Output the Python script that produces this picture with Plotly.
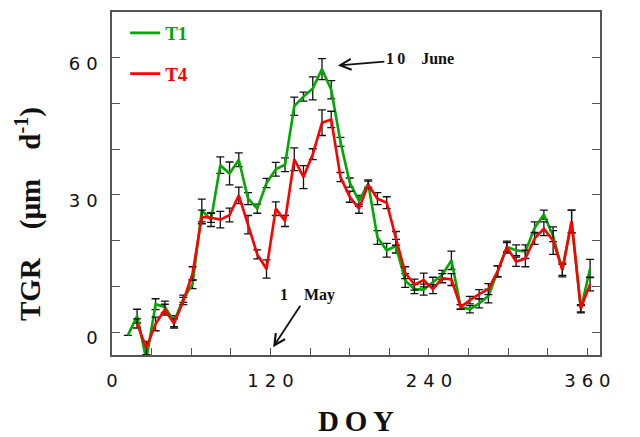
import plotly.graph_objects as go

# Day of year of each sampling
doy = [12, 19, 26, 33, 40, 47, 54, 61, 68, 75, 82, 89, 96, 103, 110, 117, 124,
       131, 138, 145, 152, 159, 166, 173, 180, 187, 194, 201, 208, 215, 222,
       229, 236, 243, 250, 257, 264, 271, 278, 285, 292, 299, 306, 313, 320,
       327, 334, 341, 348, 355, 362]

# TGR (um d-1), treatment T1
t1 = [-0.7, 3.5, -6.0, 6.1, 5.5, 2.4, 7.3, 10.5, 26.6, 24.6, 36.5, 34.7, 37.7,
      29.2, 27.0, 32.6, 35.6, 36.6, 49.4, 51.5, 53.3, 57.5, 53.0, 41.6, 32.7,
      28.7, 32.5, 20.7, 17.9, 18.8, 11.3, 9.4, 9.3, 11.0, 12.5, 15.7, 5.5, 5.0,
      6.3, 7.9, 13.3, 18.6, 17.9, 17.6, 22.8, 25.7, 21.0, 13.6, 24.2, 5.0, 13.9]
t1_err = [0, 1.5, 1.0, 1.2, 1.3, 1.2, 0.8, 1.0, 2.5, 1.5, 1.8, 2.5, 1.5, 1.3,
          1.0, 1.0, 1.5, 1.5, 2.0, 1.0, 2.5, 2.3, 2.0, 1.0, 1.0, 1.2, 0.8, 1.5,
          1.5, 1.5, 1.5, 1.0, 1.2, 1.0, 1.0, 2.0, 0.5, 0.8, 1.0, 1.5, 1.2, 1.0,
          1.2, 1.5, 1.3, 1.0, 1.2, 1.2, 2.5, 0.8, 2.0]

# TGR (um d-1), treatment T4
t4 = [None, 1.9, -3.5, 1.8, 4.9, 1.9, 6.8, 12.8, 25.2, 25.0, 24.6, 25.6, 29.9,
      23.5, 17.0, 13.8, 27.0, 24.3, 37.8, 33.9, 38.9, 45.8, 46.5, 33.9, 29.6,
      27.0, 32.2, 29.2, 28.3, 20.5, 13.0, 10.4, 11.4, 9.4, 11.8, 11.5, 5.5, 7.0,
      8.3, 9.4, 13.3, 18.6, 15.4, 16.1, 20.5, 22.6, 20.0, 13.6, 24.2, 5.2, 10.5]
t4_err = [0, 1.0, 1.5, 1.5, 1.2, 1.0, 0.8, 1.5, 1.5, 1.0, 1.8, 1.5, 1.8, 2.0,
          1.0, 2.0, 1.5, 1.2, 2.5, 2.5, 1.2, 2.8, 1.8, 1.0, 1.2, 1.0, 0.8, 1.3,
          1.3, 1.5, 1.3, 1.2, 1.5, 1.0, 1.0, 1.3, 0.5, 0.8, 1.0, 1.2, 1.2, 1.3,
          1.0, 1.8, 1.3, 1.5, 3.0, 1.5, 2.5, 0.8, 1.5]

SP = "\u2004"
x_ticks = [0, 30, 60, 90, 120, 150, 180, 210, 240, 270, 300, 330, 360]
x_labels = ["0", "", "", "", SP.join("120"), "", "", "", SP.join("240"), "", "", "", SP.join("360")]
y_ticks = [0, 10, 20, 30, 40, 50, 60]
y_labels = ["0", "", "", SP.join("30"), "", "", SP.join("60")]

GREEN = "#00a800"
RED = "#ff0000"
SERIF = "Liberation Serif, Times New Roman, serif"
SANS = "DejaVu Sans, Verdana, sans-serif"

fig = go.Figure()
err_style = dict(type="data", visible=True, color="#111111", thickness=1.3, width=4)
fig.add_trace(go.Scatter(
    x=doy, y=t1, mode="lines", name=f"<span style='color:{GREEN}'><b>T1</b></span>",
    legendgroup="t1",
    line=dict(color=GREEN, width=2.6),
    error_y=dict(array=t1_err, **err_style)))
fig.add_trace(go.Scatter(
    x=doy, y=t4, mode="lines", name=f"<span style='color:{RED}'><b>T4</b></span>",
    legendgroup="t4",
    line=dict(color=RED, width=2.6),
    error_y=dict(array=t4_err, **err_style)))

axis_common = dict(showline=True, linecolor="#555555", linewidth=1.5, showgrid=False,
                   zeroline=False, ticks="inside", tickcolor="#555555", tickwidth=1.2,
                   automargin=False,
                   tickfont=dict(family=SANS, size=18, color="#111111"))

fig.update_layout(
    width=640, height=437,
    margin=dict(l=112, r=40, t=12, b=82, autoexpand=False),
    paper_bgcolor="white", plot_bgcolor="white",
    showlegend=True,
    legend=dict(x=0.027, y=0.994, xanchor="left", yanchor="top",
                font=dict(family=SERIF, size=19), bgcolor="rgba(0,0,0,0)",
                tracegroupgap=13, itemwidth=30),
    xaxis=dict(range=[0, 369.5], tickvals=x_ticks, ticktext=x_labels, ticklen=7,
               mirror=True, ticklabelstandoff=9,
               title=dict(text="<b>D\u2009O\u2009Y</b>", font=dict(family=SERIF, size=29, color="#111111"),
                          standoff=29),
               **axis_common),
    yaxis=dict(range=[-5, 70], tickvals=y_ticks, ticktext=y_labels, ticklen=8,
               mirror="ticks", ticklabelstandoff=9, ticklabelshift=6,
               **axis_common),
    annotations=[
        dict(xref="paper", yref="paper", x=-0.172, y=0.411, xanchor="center", yanchor="middle",
             textangle=-90, showarrow=False,
             text="<b>TGR\u2002\u2002(\u00b5m\u2002\u2002d<sup>-1</sup>)</b>",
             font=dict(family=SERIF, size=29, color="#111111")),
        dict(x=171, y=58.3, xref="x", yref="y", text="<b>1\u20090\u2002\u2002June</b>",
             font=dict(family=SERIF, size=16, color="#111111"),
             showarrow=True, arrowhead=5, arrowsize=1.2, arrowwidth=1.8, arrowcolor="#111111",
             ax=82, ay=-7),
        dict(x=122, y=-3.3, xref="x", yref="y", text="<b>1\u2002\u2002May</b>",
             font=dict(family=SERIF, size=16, color="#111111"),
             showarrow=True, arrowhead=5, arrowsize=1.2, arrowwidth=1.8, arrowcolor="#111111",
             ax=34, ay=-52),
    ],
)

fig.write_html("out.html")
